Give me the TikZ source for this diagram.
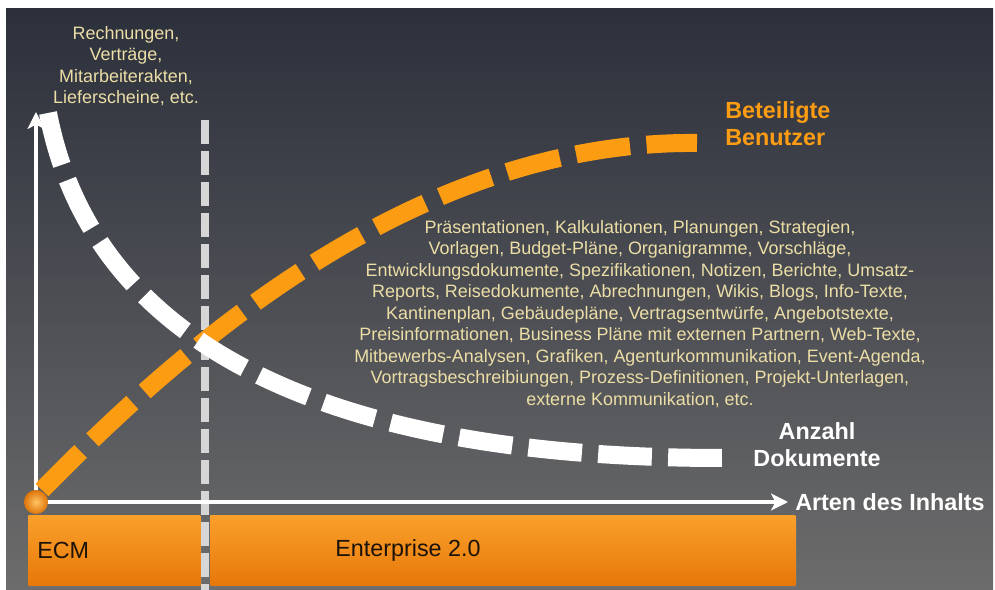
\documentclass[tikz,border=0pt]{standalone}
\usepackage{fontspec}
\setmainfont{Liberation Sans}
\usepackage{tikz}
\usetikzlibrary{arrows.meta, positioning, shadows}
\definecolor{bgtop}{RGB}{44,48,59}
\definecolor{bgbottom}{RGB}{108,108,108}
\definecolor{benutzer}{RGB}{252,156,18}
\definecolor{barlight}{RGB}{250,160,42}
\definecolor{bardark}{RGB}{230,120,10}
\definecolor{dotlight}{RGB}{255,196,100}
\definecolor{dotdark}{RGB}{222,116,8}
\definecolor{listtext}{RGB}{236,222,166}
\definecolor{marker}{RGB}{214,214,214}
\tikzstyle{balken} = [draw=none, rectangle, top color=barlight, bottom color=bardark, drop shadow={opacity=0.35, shadow xshift=1pt, shadow yshift=-1pt}]
\tikzstyle{bartext} = [inner sep=0pt, text=black!85!brown, font=\fontsize{16.6}{19}\selectfont]
\tikzstyle{trenner} = [draw=marker, line width=5pt, dash pattern=on 17pt off 5pt]
\tikzstyle{achse} = [draw=white, line width=2.6pt, -{Stealth[length=12pt, width=12pt, inset=3pt]}]
\tikzstyle{kurve} = [line width=12.8pt]
\tikzstyle{kurventext} = [inner sep=0pt, align=left, font=\fontsize{16.6}{19}\selectfont\bfseries]
\tikzstyle{liste} = [inner sep=0pt, align=center, text=listtext, font=\fontsize{12.76}{15.3}\selectfont]
\tikzstyle{punkt} = [circle, minimum size=0.6cm, inner sep=0pt, shading=radial, inner color=dotlight, outer color=dotdark]
\begin{document}
\begin{tikzpicture}[x=0.025cm, y=-0.025cm, >=Stealth]
  % hintergrund
  \fill[white] (0,0) rectangle (995,590);
  \shade[top color=bgtop, bottom color=bgbottom] (6,9) rectangle (993,590);
  \useasboundingbox (0,0) rectangle (995,590);

  % balken unten
  \node[balken, anchor=north west, minimum width=4.3cm, minimum height=1.75cm] (ecmbar) at (28,515) {};
  \node[balken, anchor=north west, minimum width=14.625cm, minimum height=1.75cm] (e2bar) at (210,515) {};
  \node[bartext, anchor=west] (ecm) at (37,550) {ECM};
  \node[bartext] (e20) at (408,550) {Enterprise 2.0};

  % grenze ECM / Enterprise 2.0
  \coordinate (grenzeoben) at (205,120);
  \coordinate (grenzeunten) at (205,590);
  \draw[trenner] (grenzeoben) -- (grenzeunten);

  % achsen
  \coordinate (ursprung) at (36,502);
  \coordinate (yende) at (36,112);
  \coordinate (xende) at (788,502);
  \draw[achse] (ursprung) -- (yende);
  \draw[achse] (ursprung) -- (xende);
  \node[kurventext, text=white, right=0.175cm of xende] (inhalt) {Arten des Inhalts};

  % kurven
  \coordinate (bstart) at (42,490);
  \coordinate (bende) at (697,143);
  \draw[kurve, benutzer, dash pattern=on 38.8pt off 11.8pt] (bstart) .. controls (160,370) and (400,140) .. (bende);
  \coordinate (dstart) at (48,113);
  \coordinate (dende) at (722,458);
  \draw[kurve, white, dash pattern=on 38.2pt off 11.6pt] (dstart) .. controls (90,330) and (300,458) .. (dende);
  \node[punkt] (nullpunkt) at (ursprung) {};

  % beschriftung
  \node[kurventext, text=benutzer, anchor=west] (benutzerlabel) at (725,124) {Beteiligte\\Benutzer};
  \node[kurventext, text=white, align=center] (doklabel) at (817,445) {Anzahl\\Dokumente};
  \node[liste] (altdok) at (126,66) {Rechnungen,\\Verträge,\\Mitarbeiterakten,\\Lieferscheine, etc.};
  \node[liste] (neudok) at (640,314) {Präsentationen, Kalkulationen, Planungen, Strategien,\\
    Vorlagen, Budget-Pläne, Organigramme, Vorschläge,\\
    Entwicklungsdokumente, Spezifikationen, Notizen, Berichte, Umsatz-\\
    Reports, Reisedokumente, Abrechnungen, Wikis, Blogs, Info-Texte,\\
    Kantinenplan, Gebäudepläne, Vertragsentwürfe, Angebotstexte,\\
    Preisinformationen, Business Pläne mit externen Partnern, Web-Texte,\\
    Mitbewerbs-Analysen, Grafiken, Agenturkommunikation, Event-Agenda,\\
    Vortragsbeschreibiungen, Prozess-Definitionen, Projekt-Unterlagen,\\
    externe Kommunikation, etc.};
\end{tikzpicture}
\end{document}
